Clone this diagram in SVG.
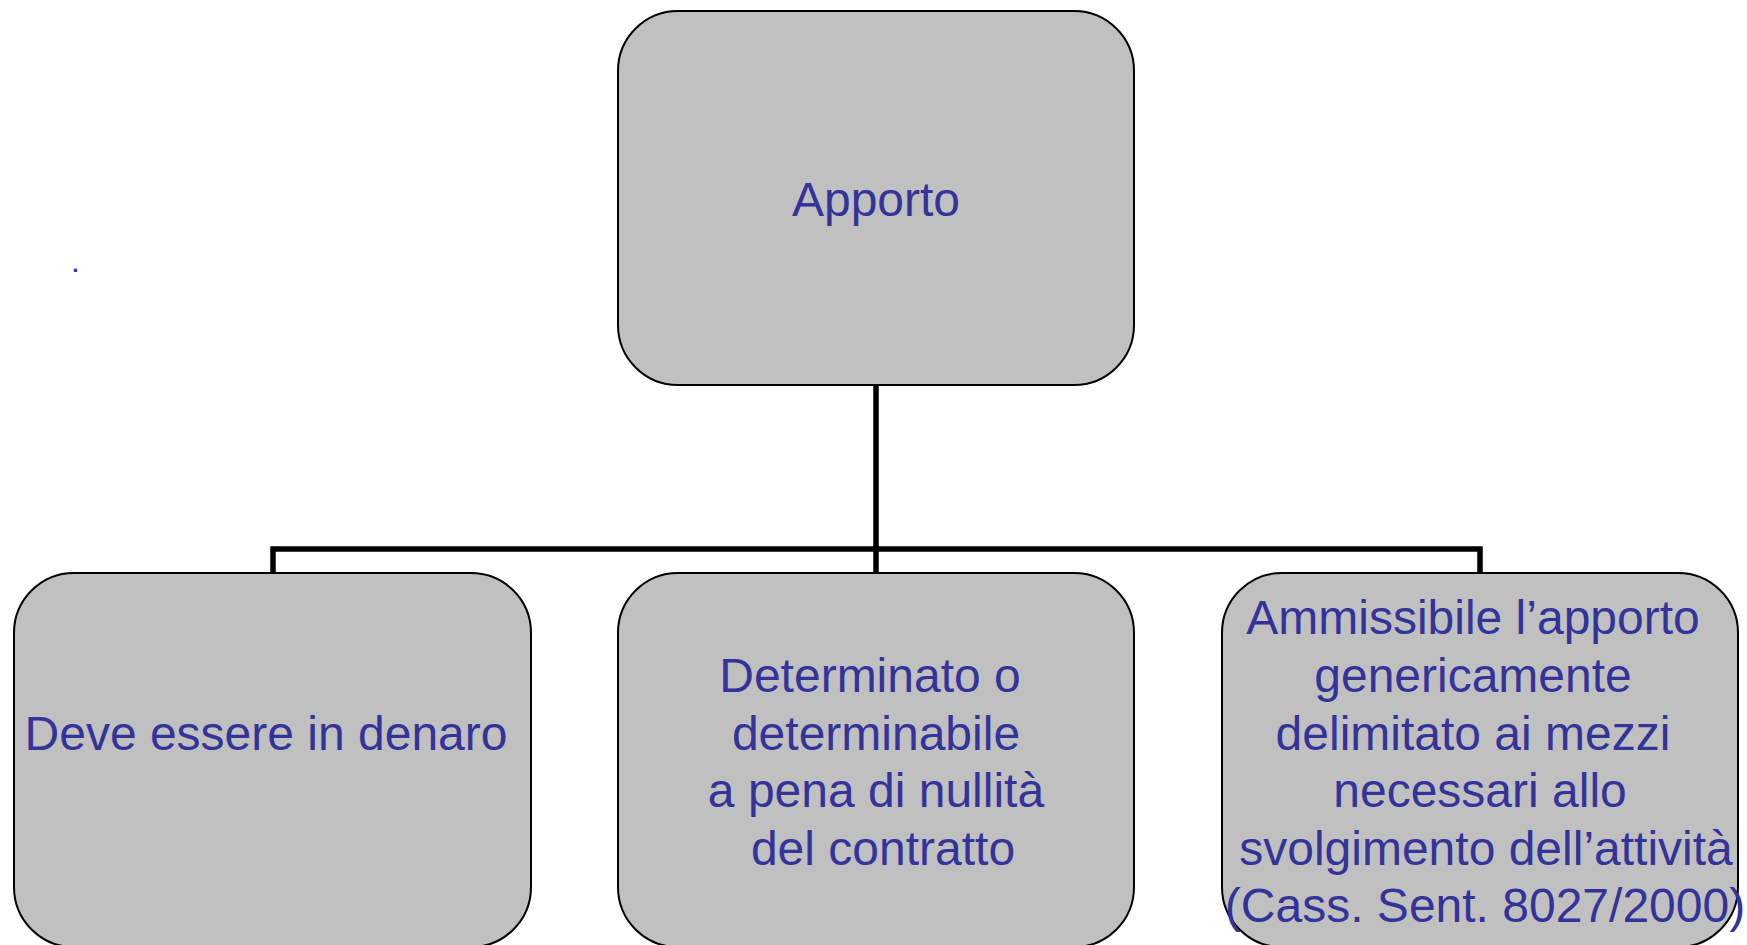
<svg xmlns="http://www.w3.org/2000/svg" width="1747" height="945" viewBox="0 0 1747 945">
<style>
.box{fill:#c0c0c0;stroke:#000;stroke-width:2}
.t{font-family:"Liberation Sans",Arial,sans-serif;font-size:48px;fill:#333399;text-anchor:middle}
.conn{fill:none;stroke:#000;stroke-width:5.5;stroke-linejoin:miter}
</style>
<rect width="1747" height="945" fill="#fff"/>
<g id="connectors">
<path class="conn" d="M876,385 V573"/>
<path class="conn" d="M273,573 V549 H1480 V573"/>
</g>
<g id="apporto">
<rect class="box" x="618" y="11" width="516" height="374" rx="60" ry="60"/>
<text class="t" x="876" y="216">Apporto</text>
</g>
<g id="denaro">
<rect class="box" x="14" y="573" width="517" height="374" rx="60" ry="60"/>
<text class="t" x="266" y="750">Deve essere in denaro</text>
</g>
<g id="determinato">
<rect class="box" x="618" y="573" width="516" height="374" rx="60" ry="60"/>
<text class="t" x="870" y="692">Determinato o</text>
<text class="t" x="876" y="750">determinabile</text>
<text class="t" x="876" y="807">a pena di nullità</text>
<text class="t" x="883" y="865">del contratto</text>
</g>
<g id="ammissibile">
<rect class="box" x="1222" y="573" width="516" height="374" rx="60" ry="60"/>
<text class="t" x="1473" y="634">Ammissibile l’apporto</text>
<text class="t" x="1473" y="692">genericamente</text>
<text class="t" x="1473" y="750">delimitato ai mezzi</text>
<text class="t" x="1480" y="807">necessari allo</text>
<text class="t" x="1486" y="865">svolgimento dell’attività</text>
<text class="t" x="1485" y="922">(Cass. Sent. 8027/2000)</text>
</g>
<text x="71" y="272" style="font-family:'Liberation Sans',Arial,sans-serif;font-size:32px;fill:#333399">.</text>
</svg>
